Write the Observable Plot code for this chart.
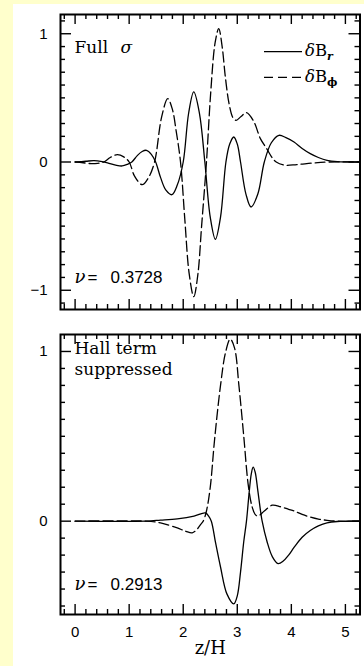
<!DOCTYPE html>
<html><head><meta charset="utf-8">
<script src="https://cdn.jsdelivr.net/npm/d3@7"></script>
<script src="https://cdn.jsdelivr.net/npm/@observablehq/plot@0.6"></script>
<style>
html,body{margin:0;padding:0}
body{background:#ffffcc;width:364px;height:666px;overflow:hidden;position:relative;font-family:"Liberation Sans",sans-serif}
#paper{position:absolute;left:13px;top:4px;width:351px;height:662px;background:#fff}
.abs{position:absolute;left:0}
#legend{position:absolute;left:0;top:0;pointer-events:none}
</style></head><body>
<div id="paper"></div>
<div id="p1" class="abs" style="top:0"></div>
<div id="p2" class="abs" style="top:330px"></div>
<svg id="legend" width="364" height="100">
  <line x1="264" x2="302" y1="51.7" y2="51.7" stroke="#000" stroke-width="1.3"/>
  <text x="305" y="55.5" font-family="DejaVu Serif" font-size="16.5" fill="#000"><tspan font-style="italic">δ</tspan>B<tspan font-size="11" font-style="italic" font-weight="bold" dy="4">r</tspan></text>
  <line x1="264" x2="302" y1="77.3" y2="77.3" stroke="#000" stroke-width="1.3" stroke-dasharray="9,5"/>
  <text x="305" y="81.5" font-family="DejaVu Serif" font-size="16.5" fill="#000"><tspan font-style="italic">δ</tspan>B<tspan font-size="11" font-weight="bold" dy="4">ϕ</tspan></text>
</svg>
<script>
// ---- data (z/H, amplitude) ----
// Top panel: Full sigma
const topZr  = [0,0.2,0.35,0.5,0.6,0.75,0.87,0.97,1.05,1.15,1.24,1.32,1.41,1.49,1.58,1.68,1.79,1.89,2.0,2.1,2.195,2.3,2.40,2.5,2.595,2.69,2.79,2.86,2.935,3.0,3.06,3.16,3.255,3.38,3.5,3.63,3.77,3.9,4.05,4.2,4.35,4.5,4.66,4.85,5.27];
const topBr  = [0,0.006,0.01,0.003,-0.006,-0.024,-0.031,-0.018,0,0.05,0.082,0.091,0.06,0,-0.12,-0.22,-0.255,-0.18,0,0.38,0.546,0.38,0,-0.43,-0.603,-0.43,0,0.14,0.195,0.14,0,-0.25,-0.351,-0.25,0,0.15,0.208,0.19,0.156,0.105,0.065,0.035,0.013,0.003,0];
const topZphi = [0,0.15,0.3,0.42,0.53,0.65,0.78,0.9,1.0,1.1,1.24,1.36,1.47,1.6,1.714,1.8,1.87,1.95,2.03,2.11,2.195,2.27,2.34,2.43,2.51,2.59,2.657,2.72,2.78,2.85,2.92,2.98,3.07,3.17,3.3,3.43,3.55,3.65,3.72,3.88,4.1,4.4,4.7,5.27];
const topBphi = [0,-0.006,-0.013,-0.01,0,0.035,0.057,0.04,0,-0.11,-0.177,-0.12,0,0.35,0.494,0.41,0.24,0,-0.45,-0.87,-1.05,-0.88,-0.5,0,0.55,0.93,1.04,0.9,0.66,0.45,0.345,0.325,0.355,0.385,0.32,0.18,0.1,0.03,0,-0.025,-0.02,-0.008,0,0];
// Bottom panel: Hall term suppressed
const botZr  = [0,1.3,1.58,1.89,2.2,2.41,2.47,2.52,2.6,2.69,2.81,2.936,3.0,3.06,3.12,3.17,3.22,3.26,3.293,3.33,3.38,3.43,3.46,3.55,3.65,3.755,3.85,3.95,4.05,4.2,4.35,4.5,4.66,4.85,5.27];
const botBr  = [0,0,0.006,0.014,0.03,0.049,0.03,0,-0.13,-0.27,-0.43,-0.487,-0.44,-0.3,-0.12,0,0.17,0.28,0.318,0.29,0.18,0.06,0,-0.12,-0.21,-0.25,-0.235,-0.2,-0.155,-0.095,-0.055,-0.028,-0.01,-0.002,0];
const botZphi = [0,1.3,1.58,1.89,2.05,2.166,2.25,2.32,2.37,2.43,2.5,2.58,2.69,2.78,2.87,2.95,3.03,3.12,3.2,3.27,3.33,3.38,3.5,3.645,3.8,3.95,4.05,4.2,4.35,4.5,4.66,4.85,5.27];
const botBphi = [0,0,-0.01,-0.04,-0.06,-0.069,-0.05,-0.02,0,0.06,0.2,0.48,0.8,0.99,1.073,1.02,0.8,0.5,0.22,0.09,0.04,0.03,0.06,0.094,0.085,0.07,0.06,0.04,0.024,0.012,0.005,0,0];

// ---- labels / ticks ----
const xTickLabels = [0,1,2,3,4,5];
const topYLabels = [-1,0,1];
const botYLabels = [0,1];
const topTitle = ["Full", "σ"];
const botTitle = ["Hall term", "suppressed"];
const topNu = "0.3728";
const botNu = "0.2913";
const xLabel = "z/H";

const xDomain = [-0.27, 5.27];
const topYDomain = [-1.15, 1.15];
const botYDomain = [-0.55, 1.1];
const xMinor = d3.range(-0.2, 5.21, 0.2).map(v => +v.toFixed(1)).filter(v => !xTickLabels.includes(v));
const topYMinor = d3.range(-1.1, 1.11, 0.1).map(v => +v.toFixed(1)).filter(v => !topYLabels.includes(v));
const botYMinor = d3.range(-0.5, 1.01, 0.1).map(v => +v.toFixed(1)).filter(v => !botYLabels.includes(v));

const tbl = (zs, vs) => zs.map((z, i) => ({z, v: vs[i]}));
const intFmt = d3.format("d");

const W = 364, FL = 60, FR = 4.5;
const FW = W - FL - FR;
const serif = "DejaVu Serif";
const sans = "Liberation Sans";
const dash = "10,4";

function frameTicks(FH, yMinor, yMajor) {
  const s = {stroke: "#000", strokeWidth: 1.4};
  return [
    Plot.tickX(xMinor, {x: d => d, insetTop: FH - 5, ...s}),
    Plot.tickX(xMinor, {x: d => d, insetBottom: FH - 5, ...s}),
    Plot.tickX(xTickLabels, {x: d => d, insetTop: FH - 10, ...s}),
    Plot.tickX(xTickLabels, {x: d => d, insetBottom: FH - 10, ...s}),
    Plot.tickY(yMinor, {y: d => d, insetRight: FW - 5, ...s}),
    Plot.tickY(yMinor, {y: d => d, insetLeft: FW - 5, ...s}),
    Plot.tickY(yMajor, {y: d => d, insetRight: FW - 11, ...s}),
    Plot.tickY(yMajor, {y: d => d, insetLeft: FW - 11, ...s}),
    Plot.frame({stroke: "#000", strokeWidth: 2})
  ];
}

function nuMarks(val, dy) {
  return [
    Plot.text(["ν"], {text: d => d, frameAnchor: "bottom-left", dx: 14, dy, lineAnchor: "bottom", textAnchor: "start", fontFamily: serif, fontStyle: "italic", fontSize: 18}),
    Plot.text(["="], {text: d => d, frameAnchor: "bottom-left", dx: 27, dy, lineAnchor: "bottom", textAnchor: "start", fontFamily: sans, fontSize: 17}),
    Plot.text([val], {text: d => d, frameAnchor: "bottom-left", dx: 50, dy, lineAnchor: "bottom", textAnchor: "start", fontFamily: sans, fontSize: 17})
  ];
}

// ---- top panel ----
const H1 = 330, MT1 = 14, MB1 = 21;
const FH1 = H1 - MT1 - MB1;
const p1 = Plot.plot({
  width: W, height: H1,
  marginLeft: FL, marginRight: FR, marginTop: MT1, marginBottom: MB1,
  style: {background: "transparent", overflow: "visible", color: "#000"},
  x: {domain: xDomain, axis: null},
  y: {domain: topYDomain},
  marks: [
    Plot.axisY(topYLabels, {anchor: "left", tickSize: 0, tickPadding: 13, tickFormat: intFmt, fontSize: 15, fontFamily: sans, label: null}),
    Plot.line(tbl(topZr, topBr), {x: "z", y: "v", curve: "catmull-rom", stroke: "#000", strokeWidth: 1.3}),
    Plot.line(tbl(topZphi, topBphi), {x: "z", y: "v", curve: "catmull-rom", stroke: "#000", strokeWidth: 1.3, strokeDasharray: dash}),
    ...frameTicks(FH1, topYMinor, topYLabels),
    Plot.text([topTitle[0]], {text: d => d, frameAnchor: "top-left", dx: 14, dy: 38.5, lineAnchor: "bottom", textAnchor: "start", fontFamily: serif, fontSize: 17}),
    Plot.text([topTitle[1]], {text: d => d, frameAnchor: "top-left", dx: 60, dy: 38.5, lineAnchor: "bottom", textAnchor: "start", fontFamily: serif, fontStyle: "italic", fontSize: 17}),
    ...nuMarks(topNu, -27)
  ]
});
document.getElementById("p1").append(p1);

// ---- bottom panel ----
const H2 = 336, MT2 = 4, MB2 = 52;
const FH2 = H2 - MT2 - MB2;
const p2 = Plot.plot({
  width: W, height: H2,
  marginLeft: FL, marginRight: FR, marginTop: MT2, marginBottom: MB2,
  style: {background: "transparent", overflow: "visible", color: "#000"},
  x: {domain: xDomain},
  y: {domain: botYDomain},
  marks: [
    Plot.axisY(botYLabels, {anchor: "left", tickSize: 0, tickPadding: 13, tickFormat: intFmt, fontSize: 15, fontFamily: sans, label: null}),
    Plot.axisX(xTickLabels, {anchor: "bottom", tickSize: 0, tickPadding: 12, tickFormat: intFmt, fontSize: 15, fontFamily: sans, label: null}),
    Plot.line(tbl(botZr, botBr), {x: "z", y: "v", curve: "catmull-rom", stroke: "#000", strokeWidth: 1.3}),
    Plot.line(tbl(botZphi, botBphi), {x: "z", y: "v", curve: "catmull-rom", stroke: "#000", strokeWidth: 1.3, strokeDasharray: dash}),
    ...frameTicks(FH2, botYMinor, botYLabels),
    Plot.text([botTitle[0]], {text: d => d, frameAnchor: "top-left", dx: 14, dy: 19, lineAnchor: "bottom", textAnchor: "start", fontFamily: serif, fontSize: 17}),
    Plot.text([botTitle[1]], {text: d => d, frameAnchor: "top-left", dx: 14, dy: 40, lineAnchor: "bottom", textAnchor: "start", fontFamily: serif, fontSize: 17}),
    ...nuMarks(botNu, -25),
    Plot.text([xLabel], {text: d => d, frameAnchor: "bottom", dy: 39, lineAnchor: "bottom", fontFamily: serif, fontSize: 18})
  ]
});
document.getElementById("p2").append(p2);
</script>
</body></html>
